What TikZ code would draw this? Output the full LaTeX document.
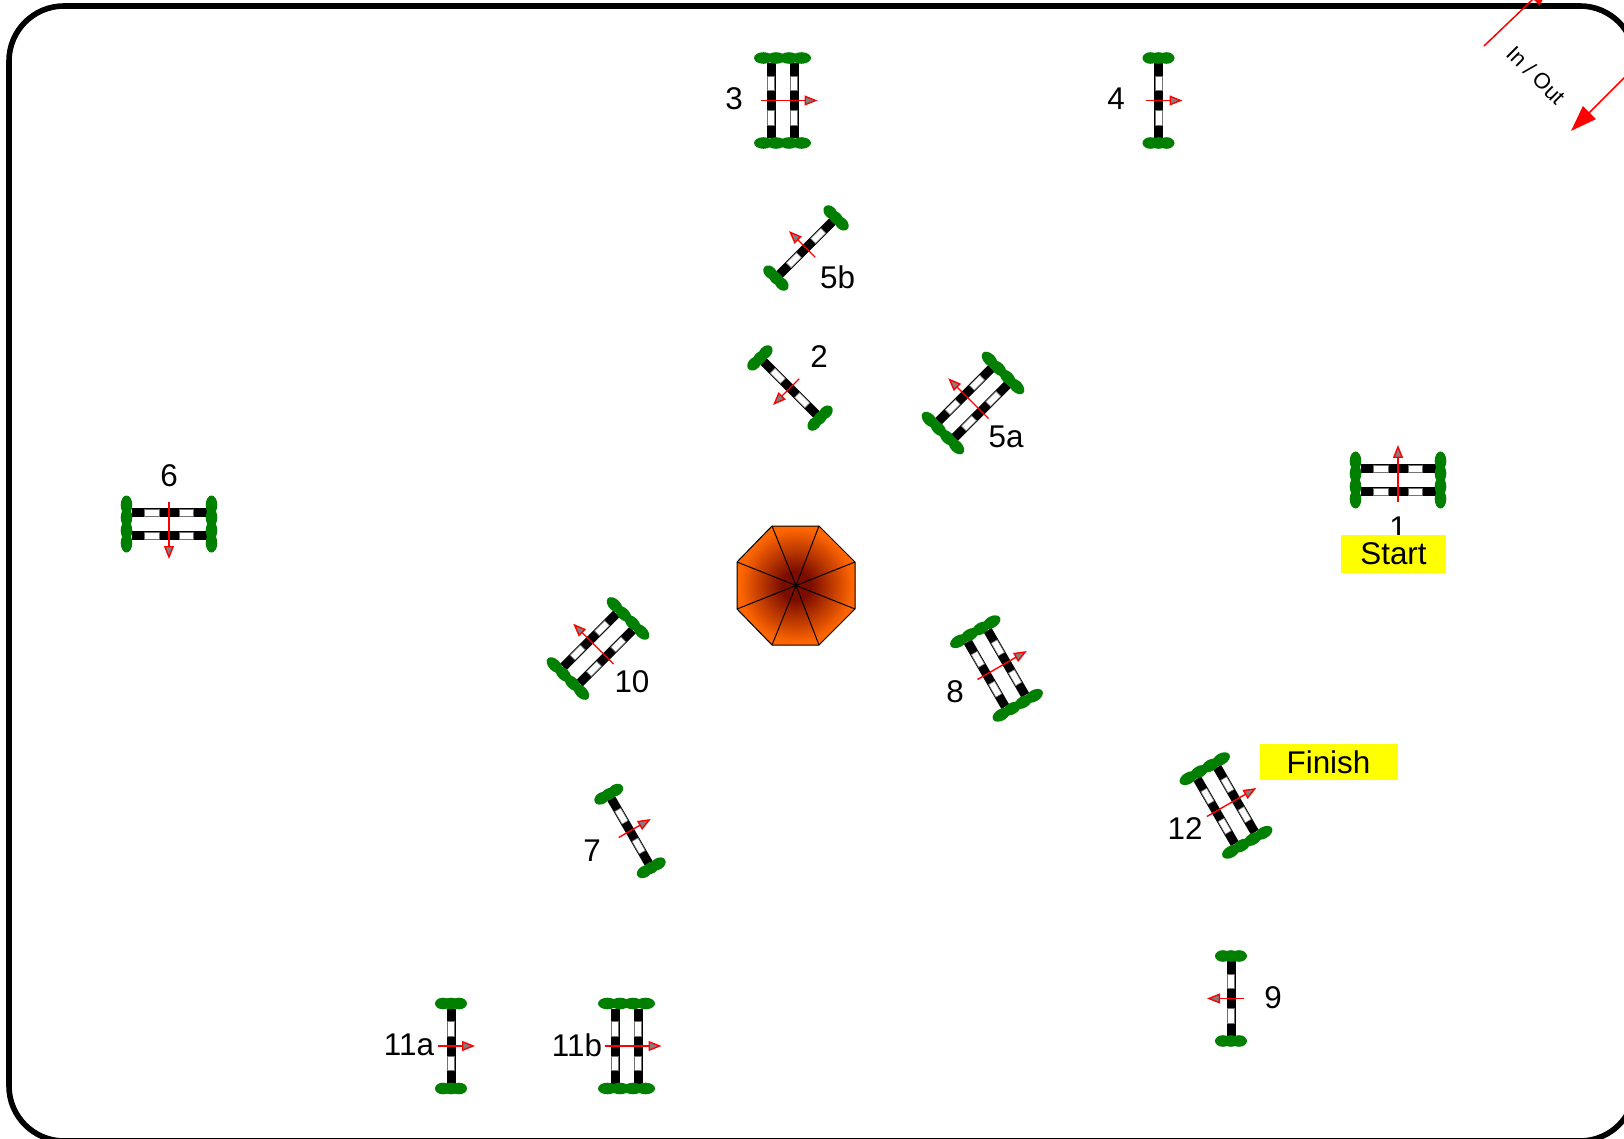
\documentclass[tikz,border=0pt]{standalone}
\usepackage{fontspec}
\setmainfont{Liberation Sans}
\usetikzlibrary{arrows.meta}
\definecolor{hedgegreen}{HTML}{007F00}
\definecolor{startyellow}{HTML}{FFFF00}
\definecolor{octorange}{HTML}{FF6600}
\definecolor{octdark}{HTML}{7A0C00}
\pgfdeclareradialshading{octshade}{\pgfpoint{0bp}{0bp}}{%
  color(0bp)=(octdark); color(6bp)=(octdark); color(24bp)=(octorange); color(50bp)=(octorange)}
\newcommand{\railface}[1]{%
  \fill[railbar] (#1-4.5,-37.5) rectangle (#1+4.5,37.5);
  \foreach \w in {-24.5,10}{
    \filldraw[railgap] (#1-3.4,\w) rectangle (#1+3.4,\w+14.5);}}
\tikzset{
  ringline/.style = {draw, line width=2.8pt, rounded corners=27.5pt},
  railbar/.style  = {fill=black},
  railgap/.style  = {fill=white, draw=black!55, line width=0.3pt},
  hedge/.style    = {fill=hedgegreen},
  dirarrow/.style = {-{Triangle[length=6.5pt,width=5pt,fill=gray]}, red, line width=0.7pt},
  inout/.style    = {-{Triangle[length=13pt,width=9pt]}, red, line width=0.75pt},
  numlabel/.style = {font=\fontsize{15.7}{18}\selectfont, inner sep=0pt},
  flagbox/.style  = {fill=startyellow, font=\fontsize{15.7}{18}\selectfont, inner sep=0pt},
  pics/jumpsingle/.style = {code={
    \railface{0}
    \foreach \e in {-1,1}{
      \foreach \c in {-8,0,8}{
        \fill[hedge] (\c,\e*42.5) ellipse [x radius=8, y radius=5.8];}}
    \draw[dirarrow] (-13,0) -- (24,0);
  }},
  pics/jumpdouble/.style = {code={
    \railface{-11.5}
    \railface{11.5}
    \foreach \e in {-1,1}{
      \foreach \c in {-19,-6.5,6.5,19}{
        \fill[hedge] (\c,\e*42.5) ellipse [x radius=9.5, y radius=5.8];}}
    \draw[dirarrow] (-22,0) -- (35,0);
  }},
}
\begin{document}
\begin{tikzpicture}[x=0.5pt, y=-0.5pt]
\clip (0,0) rectangle (1624,1139);
\useasboundingbox (0,0) rectangle (1624,1139);
% ---------------- arena ----------------
\draw[ringline] (9,6) rectangle (1635,1141);
% ---------------- in / out gate ----------------
\coordinate (gatein) at (1484,46);
\coordinate (gateinend) at (1552,-19);
\coordinate (gateout) at (1640,62);
\coordinate (gateoutend) at (1571,131);
\draw[inout] (gatein) -- (gateinend);
\draw[inout] (gateout) -- (gateoutend);
\node[font=\fontsize{11}{14}\selectfont, rotate=-45, inner sep=0pt] (gatelabel) at (1536,75) {In / Out};
% ---------------- centre octagon ----------------
\coordinate (octc) at (796,585.5);
\path[shading=octshade] (772,526) -- (819,526) -- (855,562) -- (855,609)
  -- (819,645) -- (772,645) -- (737,609) -- (737,562) -- cycle;
\draw[line width=0.5pt] (772,526) -- (819,526) -- (855,562) -- (855,609)
  -- (819,645) -- (772,645) -- (737,609) -- (737,562) -- cycle;
\foreach \vx/\vy in {772/526,819/526,855/562,855/609,819/645,772/645,737/609,737/562}{
  \draw[line width=0.5pt] (octc) -- (\vx,\vy);}
% ---------------- single jumps ----------------
\foreach \jx/\jy/\ang in {1158.5/100.5/0, 806/248/135, 790/388/225, 630/831/30,
                          1231/998.5/180, 451/1046/0}{
  \pic[rotate=\ang] at (\jx,\jy) {jumpsingle};}
% ---------------- double jumps ----------------
\foreach \jx/\jy/\ang in {1398/480/90, 782.5/100.5/0, 973/403/135, 169/524/270,
                          996.5/668.5/30, 598/648.5/135, 1226/805.5/30, 626.5/1046/0}{
  \pic[rotate=\ang] at (\jx,\jy) {jumpdouble};}
% ---------------- numbers ----------------
\node[numlabel] (num1) at (1398,528) {1};
\node[numlabel] (num2) at (819,357) {2};
\node[numlabel] (num3) at (734,99) {3};
\node[numlabel] (num4) at (1116,99) {4};
\node[numlabel] (num5a) at (1006,437) {5a};
\node[numlabel] (num5b) at (837.5,277) {5b};
\node[numlabel] (num6) at (169,476) {6};
\node[numlabel] (num7) at (592,851) {7};
\node[numlabel] (num8) at (955,692) {8};
\node[numlabel] (num9) at (1273,998) {9};
\node[numlabel] (num10) at (632,681.5) {10};
\node[numlabel] (num11a) at (409,1045) {11a};
\node[numlabel] (num11b) at (577,1045) {11b};
\node[numlabel] (num12) at (1185,828.5) {12};
% ---------------- start and finish ----------------
\node[flagbox, minimum width=52.5pt, minimum height=19pt] (startbox) at (1393.5,554) {Start};
\node[flagbox, minimum width=69pt, minimum height=18pt] (finishbox) at (1328.5,762) {Finish};
\end{tikzpicture}
\end{document}
